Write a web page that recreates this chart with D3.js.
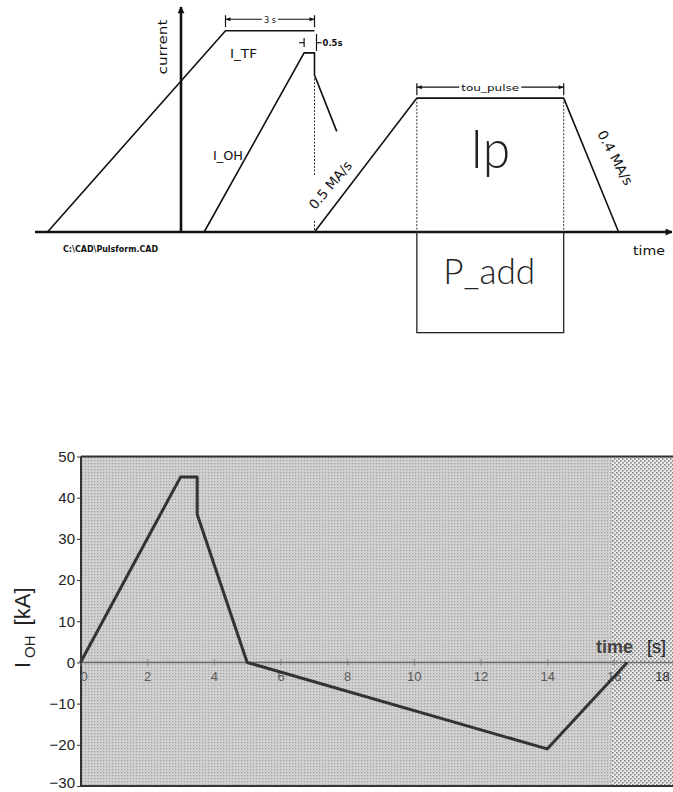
<!DOCTYPE html>
<html>
<head>
<meta charset="utf-8">
<script src="https://cdn.jsdelivr.net/npm/d3@7"></script>
<style>
  html, body { margin: 0; padding: 0; background: #fff; }
  svg { display: block; }
  .cad { font-family: "DejaVu Sans", sans-serif; fill: #111; }
  .thin { font-family: "Lato", "DejaVu Sans", sans-serif; font-weight: 300; fill: #222; }
  .plot text { font-family: "Liberation Sans", Arial, sans-serif; }
</style>
</head>
<body>
<svg id="chart" width="673" height="792"></svg>
<script>
// ---- Pulse schematic (top): times in seconds, currents as fraction of flat-top ----
const tfTime  = [-4.5, 1.5, 4.5];
const tfLevel = [0, 1, 1];
const ohTime  = [0.78, 4.15, 4.5, 4.5, 5.25];
const ohLevel = [0, 0.89, 0.89, 0.78, 0.5];
const ipTime  = [4.5, 7.95, 12.9, 14.75];
const ipLevel = [0, 0.665, 0.665, 0];
const paddLevel = -0.5;

// ---- OH coil current waveform (bottom) ----
const timeS   = [0, 3, 3.5, 3.5, 5, 14, 16.4];
const iohKA   = [0, 45, 45, 36, 0, -21, 0];
const timeTicks = [0, 2, 4, 6, 8, 10, 12, 14, 16, 18];
const iohTicks  = [50, 40, 30, 20, 10, 0, -10, -20, -30];

const W = 673, H = 792;
const svg = d3.select("#chart");
const defs = svg.append("defs");

// arrow head
defs.append("marker").attr("id", "arrow").attr("viewBox", "0 0 10 10")
  .attr("refX", 9).attr("refY", 5).attr("markerWidth", 9).attr("markerHeight", 7)
  .attr("markerUnits", "userSpaceOnUse").attr("orient", "auto")
  .append("path").attr("d", "M0,0 L10,5 L0,10 Z").attr("fill", "#111");

// halftone fills for the plot area
const fine = defs.append("pattern").attr("id", "fine").attr("width", 3).attr("height", 3)
  .attr("patternUnits", "userSpaceOnUse");
fine.append("rect").attr("width", 3).attr("height", 3).attr("fill", "#d0d0d0");
fine.append("rect").attr("x", 1).attr("y", 1).attr("width", 1.2).attr("height", 1.2).attr("fill", "#a0a0a0");
const coarse = defs.append("pattern").attr("id", "coarse").attr("width", 4).attr("height", 4)
  .attr("patternUnits", "userSpaceOnUse");
coarse.append("rect").attr("width", 4).attr("height", 4).attr("fill", "#e9e9e9");
coarse.append("rect").attr("x", 0).attr("y", 0).attr("width", 1.6).attr("height", 1.6).attr("fill", "#858585");
coarse.append("rect").attr("x", 2).attr("y", 2).attr("width", 1.6).attr("height", 1.6).attr("fill", "#858585");

// ================= schematic =================
const sx = d3.scaleLinear().domain([0, 3]).range([181, 270]);
const sy = d3.scaleLinear().domain([0, 1]).range([232, 30.7]);
const schem = svg.append("g");
const line2 = (ts, vs) => d3.line().x((d, i) => sx(ts[i])).y((d, i) => sy(vs[i]))(ts);

// axes
schem.append("line").attr("x1", 35).attr("x2", 672).attr("y1", sy(0)).attr("y2", sy(0))
  .attr("stroke", "#111").attr("stroke-width", 2.6).attr("marker-end", "url(#arrow)");
schem.append("line").attr("x1", sx(0)).attr("x2", sx(0)).attr("y1", sy(0)).attr("y2", 7)
  .attr("stroke", "#111").attr("stroke-width", 2.6).attr("marker-end", "url(#arrow)");

// waveforms
[[tfTime, tfLevel], [ohTime, ohLevel], [ipTime, ipLevel]].forEach(([t, v]) => {
  schem.append("path").attr("d", line2(t, v)).attr("fill", "none")
    .attr("stroke", "#111").attr("stroke-width", 1.6).attr("stroke-linejoin", "miter");
});

// P_add box
const pa = { x0: sx(ipTime[1]), x1: sx(ipTime[2]), y0: sy(0), y1: sy(paddLevel) };
schem.append("rect").attr("x", pa.x0).attr("y", pa.y0).attr("width", pa.x1 - pa.x0)
  .attr("height", pa.y1 - pa.y0).attr("fill", "none").attr("stroke", "#222").attr("stroke-width", 1.3);

// dashed guides
const dash = (x, ya, yb) => schem.append("line").attr("x1", x).attr("x2", x).attr("y1", ya).attr("y2", yb)
  .attr("stroke", "#333").attr("stroke-width", 1).attr("stroke-dasharray", "2,1.5");
dash(sx(ipTime[1]), sy(ipLevel[1]), sy(0));
dash(sx(ipTime[2]), sy(ipLevel[2]), sy(0));
dash(sx(4.5), sy(ohLevel[3]), sy(0.28));
dash(sx(4.5), sy(0.055), sy(0));

// dimension brackets
function dim(xa, xb, y, label, lw) {
  const g = schem.append("g");
  g.append("line").attr("x1", xa).attr("x2", xa).attr("y1", y - 4).attr("y2", y + 8).attr("stroke", "#111").attr("stroke-width", 1.2);
  g.append("line").attr("x1", xb).attr("x2", xb).attr("y1", y - 4).attr("y2", y + 8).attr("stroke", "#111").attr("stroke-width", 1.2);
  const xm = (xa + xb) / 2;
  g.append("line").attr("x1", xa).attr("x2", xm - lw / 2 - 2).attr("y1", y).attr("y2", y).attr("stroke", "#111").attr("stroke-width", 1.1);
  g.append("line").attr("x1", xm + lw / 2 + 2).attr("x2", xb).attr("y1", y).attr("y2", y).attr("stroke", "#111").attr("stroke-width", 1.1);
  g.append("path").attr("d", `M${xa},${y} l5,-2 l0,4 Z M${xb},${y} l-5,-2 l0,4 Z`).attr("fill", "#111");
  g.append("text").attr("class", "cad").attr("x", xm).attr("y", y + 3.5).attr("text-anchor", "middle")
    .attr("font-size", 9.5).attr("textLength", lw).attr("lengthAdjust", "spacingAndGlyphs").text(label);
}
dim(sx(tfTime[1]), sx(tfTime[2]), sy(1) - 11.5, "3 s", 12);
dim(sx(ipTime[1]), sx(ipTime[2]), sy(ipLevel[1]) - 11, "tou_pulse", 58);

// 0.5 s bracket (arrows pointing inward from outside)
{
  const xa = sx(ohTime[1]), xb = sx(4.5) + 1, y = 42.7;
  schem.append("line").attr("x1", xa).attr("x2", xa).attr("y1", 38).attr("y2", 47).attr("stroke", "#111").attr("stroke-width", 1.2);
  schem.append("line").attr("x1", xa - 5).attr("x2", xa).attr("y1", y).attr("y2", y).attr("stroke", "#111").attr("stroke-width", 1.2);
  schem.append("line").attr("x1", xb + 1).attr("x2", xb + 1).attr("y1", 34).attr("y2", 51).attr("stroke", "#111").attr("stroke-width", 1.2);
  schem.append("line").attr("x1", xb + 1).attr("x2", xb + 6).attr("y1", y).attr("y2", y).attr("stroke", "#111").attr("stroke-width", 1.2);
  schem.append("text").attr("class", "cad").attr("x", xb + 7).attr("y", y + 3).attr("font-size", 8)
    .attr("font-weight", "bold").attr("textLength", 20).attr("lengthAdjust", "spacingAndGlyphs").text("0.5s");
}

// labels
const cadText = (x, y, s, size, len, rot, anchor) => {
  const t = schem.append("text").attr("class", "cad").attr("font-size", size)
    .attr("text-anchor", anchor || "middle").attr("transform", `translate(${x},${y}) rotate(${rot || 0})`).text(s);
  if (len) t.attr("textLength", len).attr("lengthAdjust", "spacingAndGlyphs");
  return t;
};
cadText(167, 47, "current", 13, 55, -90);
cadText(243.5, 58, "I_TF", 12.5, 27);
cadText(228, 160, "I_OH", 12.5, 30);
cadText(110.5, 252, "C:\\CAD\\Pulsform.CAD", 8, 95).attr("font-weight", "bold");
cadText(649, 255, "time", 13, 32);
cadText(334, 188, "0.5 MA/s", 13.5, 58, -50);
cadText(611, 160, "0.4 MA/s", 13.5, 60, 62);

schem.append("text").attr("class", "thin").attr("x", (pa.x0 + pa.x1) / 2).attr("y", 168)
  .attr("text-anchor", "middle").attr("font-size", 54).attr("textLength", 40)
  .attr("lengthAdjust", "spacingAndGlyphs").text("Ip");
schem.append("text").attr("class", "thin").attr("x", (pa.x0 + pa.x1) / 2 - 1).attr("y", 284)
  .attr("text-anchor", "middle").attr("font-size", 35).attr("textLength", 92)
  .attr("lengthAdjust", "spacingAndGlyphs").text("P_add");

// ================= current waveform plot =================
const x = d3.scaleLinear().domain([0, 18]).range([80.5, 680.5]);
const y = d3.scaleLinear().domain([-30, 50]).range([786, 456.5]);
const plot = svg.append("g").attr("class", "plot");
const left = 81;

plot.append("rect").attr("x", left).attr("y", y(50)).attr("width", W - left)
  .attr("height", y(-30) - y(50)).attr("fill", "url(#fine)");
plot.append("rect").attr("x", 612).attr("y", y(50)).attr("width", W - 612)
  .attr("height", y(-30) - y(50)).attr("fill", "url(#coarse)");

// frame
plot.append("line").attr("x1", left).attr("x2", W).attr("y1", y(50)).attr("y2", y(50)).attr("stroke", "#333").attr("stroke-width", 2);
plot.append("line").attr("x1", left).attr("x2", W).attr("y1", y(-30)).attr("y2", y(-30)).attr("stroke", "#333").attr("stroke-width", 2);
plot.append("line").attr("x1", left).attr("x2", left).attr("y1", y(50)).attr("y2", y(-30)).attr("stroke", "#333").attr("stroke-width", 2);

// zero line with tick marks (x axis)
plot.append("line").attr("x1", left).attr("x2", W).attr("y1", y(0)).attr("y2", y(0)).attr("stroke", "#6c6c6c").attr("stroke-width", 1.5);
const xAxis = plot.append("g").attr("transform", `translate(0,${y(0) - 3})`)
  .call(d3.axisBottom(x).tickValues(timeTicks).tickSize(6).tickPadding(6).tickFormat(d3.format("d")));
xAxis.select(".domain").remove();
xAxis.selectAll(".tick line").attr("stroke", "#7a7a7a");
xAxis.selectAll(".tick text").attr("font-size", 13).attr("fill", "#5a5a5a");
xAxis.selectAll(".tick").filter(d => d === 0).select("text").attr("x", 3);
xAxis.selectAll(".tick").filter(d => d === 18).select("text").attr("x", W - 11 - x(18)).attr("fill", "#333");

// y axis
const yAxis = plot.append("g").attr("transform", `translate(${left},0)`)
  .call(d3.axisLeft(y).tickValues(iohTicks).tickSize(4).tickPadding(2).tickFormat(d3.format("d")));
yAxis.select(".domain").remove();
yAxis.selectAll(".tick line").attr("stroke", "#333");
yAxis.selectAll(".tick text").attr("font-size", 15).attr("fill", "#222");
yAxis.selectAll(".tick").filter(d => d === -30).select("text").attr("dy", "0.1em");

// waveform
plot.append("path").attr("d", d3.line().x((d, i) => x(timeS[i])).y((d, i) => y(iohKA[i]))(timeS))
  .attr("fill", "none").attr("stroke", "#333").attr("stroke-width", 3).attr("stroke-linejoin", "round");

// axis titles
const yl = plot.append("text").attr("transform", `translate(30,668) rotate(-90)`).attr("fill", "#222").attr("font-size", 22);
yl.append("tspan").text("I");
yl.append("tspan").attr("font-size", 15).attr("dx", 4).attr("dy", 5).text("OH");
yl.append("tspan").attr("dx", 10).attr("dy", -5).text("[kA]");

plot.append("text").attr("x", 633).attr("y", 653).attr("text-anchor", "end").attr("font-size", 18)
  .attr("font-weight", "bold").attr("fill", "#444").text("time");
plot.append("text").attr("x", 647).attr("y", 653).attr("font-size", 18)
  .attr("fill", "#222").text("[s]");
</script>
</body>
</html>
